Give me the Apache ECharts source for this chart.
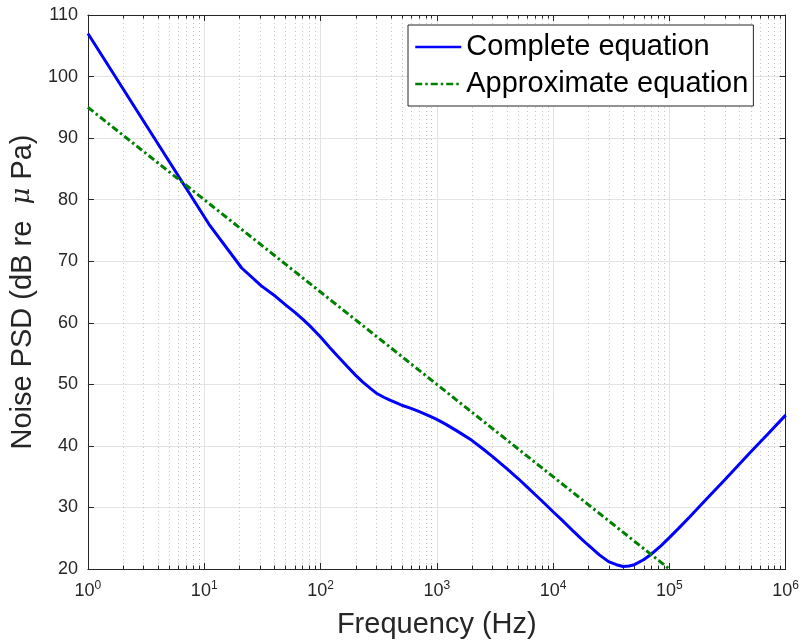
<!DOCTYPE html>
<html>
<head>
<meta charset="utf-8">
<script src="https://cdn.jsdelivr.net/npm/echarts@6/dist/echarts.min.js"></script>
<style>
html,body{margin:0;padding:0;background:#fff;}
#chart{width:802px;height:644px;}
</style>
</head>
<body>
<div id="chart"></div>
<script>
// ---- data ----
const completeFreq = [1, 11, 21, 31, 41, 51, 61, 71, 81, 91, 101, 120, 140, 170, 200, 230, 270, 300, 350, 400, 450, 500, 600, 700, 850,
  1000, 1200, 1500, 2000, 2500, 3000, 4000, 5000, 6000, 7000, 8500, 10000, 12000, 15000, 17500, 20000, 25000, 30000, 35000, 40000, 45000,
  50000, 60000, 70000, 85000, 100000, 120000, 150000, 200000, 300000, 500000, 700000, 1000000];
const completePSD = [107.0, 76.0, 68.9, 66.0, 64.3, 62.8, 61.6, 60.5, 59.5, 58.5, 57.6, 56.0, 54.6, 52.9, 51.5, 50.4, 49.3, 48.6, 47.9, 47.4, 47.0, 46.6, 46.1, 45.6, 44.9,
  44.3, 43.5, 42.4, 40.9, 39.5, 38.3, 36.3, 34.7, 33.3, 32.1, 30.6, 29.3, 27.9, 26.1, 24.9, 23.9, 22.3, 21.2, 20.7, 20.4, 20.5,
  20.7, 21.5, 22.4, 23.8, 25.1, 26.6, 28.5, 31.0, 34.5, 39.0, 41.9, 45.0];
const approxFreq = [1, 10, 100, 1000, 10000, 100000];
const approxPSD = [95, 80, 65, 50, 35, 20];
const seriesNames = ['Complete equation', 'Approximate equation'];
const X_MIN = 1, X_MAX = 1000000;
const Y_MIN = 20, Y_MAX = 110, Y_STEP = 10;
const minorTicks = [];
for (let d = 1; d < X_MAX; d *= 10) { for (let k = 2; k <= 9; k++) minorTicks.push(k * d); }

const FONT = '"Liberation Sans", Arial, Helvetica, sans-serif';
const AX = '#262626';

const chart = echarts.init(document.getElementById('chart'), null, {renderer: 'canvas'});

const option = {
  animation: false,
  backgroundColor: '#ffffff',
  grid: {left: 85, top: 15, width: 703, height: 555, containLabel: false},
  legend: {
    data: seriesNames,
    orient: 'vertical',
    left: 408, top: 25,
    itemWidth: 46, itemHeight: 14, itemGap: 3,
    padding: [5, 5, 5, 6],
    backgroundColor: '#ffffff',
    borderColor: AX, borderWidth: 1,
    itemStyle: {opacity: 0},
    lineStyle: {width: 2.5},
    textStyle: {fontFamily: FONT, fontSize: 29, color: '#000', lineHeight: 34},
    selectedMode: false
  },
  xAxis: [{
    type: 'log', logBase: 10, min: X_MIN, max: X_MAX, position: 'bottom',
    name: 'Frequency (Hz)', nameLocation: 'middle', nameGap: 41,
    nameTextStyle: {fontFamily: FONT, fontSize: 29, color: AX},
    axisLine: {show: true, onZero: false, lineStyle: {color: AX, width: 1}},
    axisTick: {show: true, inside: true, length: 6, lineStyle: {color: AX}},
    axisLabel: {
      margin: 11, color: AX, fontFamily: FONT,
      formatter: v => '{b|10}{s|' + Math.round(Math.log10(v)) + '}',
      rich: {b: {fontSize: 18, fontFamily: FONT, color: AX},
             s: {fontSize: 12, fontFamily: FONT, color: AX, padding: [0, 0, 10, 0]}}
    },
    splitLine: {show: true, lineStyle: {color: '#e3e3e3', width: 1}}
  }, {
    type: 'log', logBase: 10, min: X_MIN, max: X_MAX, position: 'top',
    axisLine: {show: true, onZero: false, lineStyle: {color: AX, width: 1}},
    axisTick: {show: true, inside: true, length: 6, lineStyle: {color: AX}},
    axisLabel: {show: false}, splitLine: {show: false}
  }],
  yAxis: [{
    type: 'value', min: Y_MIN, max: Y_MAX, interval: Y_STEP, position: 'left',
    name: 'Noise PSD (dB re  {mu|μ} Pa)', nameLocation: 'middle', nameGap: 44,
    nameTextStyle: {fontFamily: FONT, fontSize: 29, color: AX,
      rich: {mu: {fontFamily: '"DejaVu Serif", "Liberation Serif", serif', fontStyle: 'italic', fontSize: 26, color: AX}}},
    axisLine: {show: true, onZero: false, lineStyle: {color: AX, width: 1}},
    axisTick: {show: true, inside: true, length: 6, lineStyle: {color: AX}},
    axisLabel: {margin: 10, fontSize: 18, fontFamily: FONT, color: AX},
    splitLine: {show: true, lineStyle: {color: '#e3e3e3', width: 1}}
  }, {
    type: 'value', min: Y_MIN, max: Y_MAX, interval: Y_STEP, position: 'right',
    axisLine: {show: true, onZero: false, lineStyle: {color: AX, width: 1}},
    axisTick: {show: true, inside: true, length: 6, lineStyle: {color: AX}},
    axisLabel: {show: false}, splitLine: {show: false}
  }],
  series: [{
    name: 'minor',
    type: 'custom',
    xAxisIndex: 0, yAxisIndex: 0,
    silent: true, z: 1,
    data: minorTicks.map(v => [v, Y_MIN]),
    encode: {x: 0, y: 1},
    renderItem: function (params, api) {
      const v = api.value(0);
      const top = api.coord([v, Y_MAX]);
      const bot = api.coord([v, Y_MIN]);
      const x = Math.round(top[0]) + 0.5;
      return {type: 'group', children: [
        {type: 'line', shape: {x1: x, y1: top[1], x2: x, y2: bot[1]},
         style: {stroke: '#c4c4c4', lineWidth: 1, lineDash: [1, 3]}},
        {type: 'line', shape: {x1: x, y1: bot[1], x2: x, y2: bot[1] - 3.5},
         style: {stroke: AX, lineWidth: 1}},
        {type: 'line', shape: {x1: x, y1: top[1], x2: x, y2: top[1] + 3.5},
         style: {stroke: AX, lineWidth: 1}}
      ]};
    }
  }, {
    name: seriesNames[0], type: 'line', z: 3,
    xAxisIndex: 0, yAxisIndex: 0,
    data: completeFreq.map((f, i) => [f, completePSD[i]]),
    showSymbol: false, symbol: 'none',
    lineStyle: {color: '#0000ff', width: 3},
    itemStyle: {color: '#0000ff'}
  }, {
    name: seriesNames[1], type: 'line', z: 4,
    xAxisIndex: 0, yAxisIndex: 0,
    data: approxFreq.map((f, i) => [f, approxPSD[i]]),
    showSymbol: false, symbol: 'none',
    lineStyle: {color: '#008000', width: 3, type: [7, 3, 2.5, 3]},
    itemStyle: {color: '#008000'}
  }]
};
chart.setOption(option);
</script>
</body>
</html>
